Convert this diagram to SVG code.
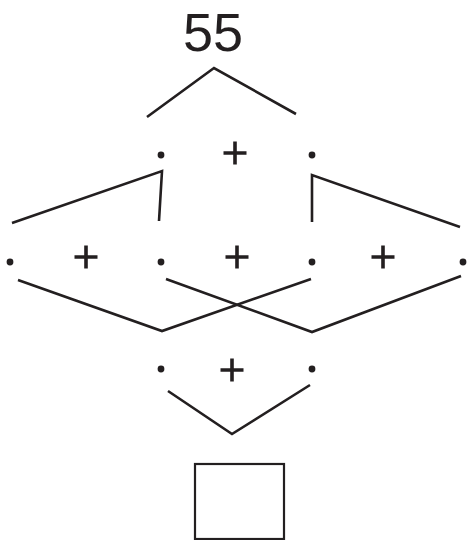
<svg xmlns="http://www.w3.org/2000/svg" width="469" height="540" viewBox="0 0 469 540">
<style>
.ln{fill:none;stroke:#231f20;stroke-width:2.6;stroke-linejoin:miter}
.dot{fill:#231f20}
.pl{stroke:#231f20;stroke-width:3.6}
.t{font-family:"Liberation Sans",Arial,sans-serif;fill:#231f20}
</style>
<rect width="469" height="540" fill="#fff"/>
<g id="top">
<text class="t" x="213" y="51" font-size="54" text-anchor="middle">55</text>
</g>
<g id="row1">
<circle class="dot" cx="161" cy="155" r="3.4"/>
<circle class="dot" cx="312" cy="155" r="3.4"/>
<path class="pl" d="M223.5 153H246.5M235 141.5V164.5"/>
</g>
<g id="row2">
<circle class="dot" cx="10" cy="262" r="3.4"/>
<circle class="dot" cx="161" cy="262" r="3.4"/>
<circle class="dot" cx="312" cy="262" r="3.4"/>
<circle class="dot" cx="463" cy="262" r="3.4"/>
<path class="pl" d="M74.5 257H97.5M86 245.5V268.5"/>
<path class="pl" d="M225.5 257H248.5M237 245.5V268.5"/>
<path class="pl" d="M371.5 257H394.5M383 245.5V268.5"/>
</g>
<g id="row3">
<circle class="dot" cx="161" cy="369" r="3.4"/>
<circle class="dot" cx="312" cy="369" r="3.4"/>
<path class="pl" d="M220.5 370H243.5M232 358.5V381.5"/>
</g>
<g id="box">
<rect x="195" y="464" width="89" height="75" fill="none" stroke="#231f20" stroke-width="2.2"/>
</g>
<g id="connectors">
<path class="ln" d="M147 117L214 68L296 114"/>
<path class="ln" d="M12 223L162 171L159 221"/>
<path class="ln" d="M312 222L312 175L460 227"/>
<path class="ln" d="M18 280L162 331L311 279"/>
<path class="ln" d="M166 279L312 332L461 276"/>
<path class="ln" d="M168 391L232 434L310 385"/>
</g>
</svg>
